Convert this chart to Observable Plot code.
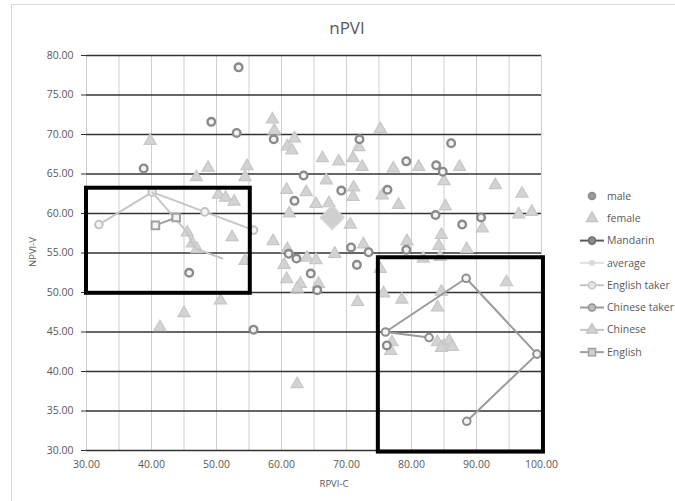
<!DOCTYPE html>
<html>
<head>
<meta charset="utf-8">
<script src="https://cdn.jsdelivr.net/npm/d3@7"></script>
<script src="https://cdn.jsdelivr.net/npm/@observablehq/plot@0.6"></script>
<style>
  html, body { margin: 0; padding: 0; background: #fff; }
  #chart { width: 675px; height: 501px; }
</style>
</head>
<body>
<div id="chart"></div>
<script>
// ---- tick values ----
const xLabelTicks = [30, 40, 50, 60, 70, 80, 90, 100];
const xGridTicks = [30, 35, 40, 45, 50, 55, 60, 65, 70, 75, 80, 85, 90, 95, 100];
const yTicks = [30, 35, 40, 45, 50, 55, 60, 65, 70, 75, 80];

// ---- male (rings) ----
const maleX = [53.4, 49.2, 53.1, 58.8, 38.8, 63.4, 62.0, 72.0, 69.2, 76.3, 79.2, 83.8, 84.8, 86.1, 83.7, 87.8, 90.7, 70.7, 73.4, 71.6, 79.2, 61.1, 62.3, 45.8, 55.7, 64.5, 65.5, 76.2];
const maleY = [78.5, 71.6, 70.2, 69.4, 65.7, 64.8, 61.6, 69.4, 62.9, 63.0, 66.6, 66.1, 65.3, 68.9, 59.8, 58.6, 59.5, 55.7, 55.1, 53.5, 55.4, 54.9, 54.3, 52.5, 45.3, 52.4, 50.3, 43.3];

// ---- female (triangles) ----
const femaleX = [39.8, 46.9, 48.7, 54.7, 54.4, 50.3, 51.4, 52.7, 58.6, 58.9, 60.9, 61.6, 62.0, 66.3, 68.8, 60.8, 63.8, 65.3, 67.3, 66.9, 61.2, 52.4, 58.7, 60.9, 54.4, 63.9, 65.3, 68.2, 45.5, 46.3, 47.0, 60.4, 60.8, 62.9, 62.4, 65.7, 50.6, 45.0, 41.3, 62.4, 75.2, 71.9, 71.0, 72.4, 77.2, 81.1, 87.4, 85.0, 92.9, 97.0, 71.1, 71.0, 75.5, 78.0, 85.2, 70.6, 90.9, 96.5, 98.5, 72.6, 79.3, 84.6, 84.2, 88.5, 81.8, 84.4, 75.2, 75.7, 78.5, 71.7, 84.6, 84.0, 94.6, 77.0, 76.8, 84.0, 85.0, 85.8, 86.3, 84.6];
const femaleY = [69.2, 64.6, 65.8, 66.0, 64.6, 62.4, 62.0, 61.5, 71.9, 70.5, 68.5, 68.0, 69.5, 67.0, 66.6, 63.0, 62.7, 61.2, 61.3, 64.2, 60.0, 57.0, 56.5, 55.5, 54.0, 54.4, 54.1, 54.9, 57.6, 56.2, 55.5, 53.5, 51.7, 51.1, 50.5, 51.1, 49.0, 47.4, 45.6, 38.4, 70.7, 68.4, 67.0, 65.9, 65.7, 65.9, 65.9, 64.1, 63.6, 62.5, 63.3, 62.1, 62.3, 61.1, 60.9, 58.6, 58.1, 59.9, 60.2, 56.1, 56.5, 57.3, 55.9, 55.5, 54.3, 54.5, 53.0, 49.9, 49.1, 48.8, 50.1, 48.1, 51.3, 43.7, 42.6, 43.7, 43.3, 43.9, 43.1, 43.0];

// ---- line series ----
const averageX = [67.8];
const averageY = [59.5];
const englishTakerX = [31.9, 40.1, 48.2, 55.7];
const englishTakerY = [58.6, 62.7, 60.2, 57.9];
const chineseTakerX = [82.7, 76.0, 88.4, 99.3, 88.5];
const chineseTakerY = [44.3, 45.0, 51.8, 42.2, 33.7];
const chineseX = [40.1, 45.5, 46.3, 47.0, 50.9];
const chineseY = [62.7, 57.6, 56.2, 55.5, 54.3];
const englishX = [40.6, 43.8];
const englishY = [58.5, 59.5];

// ---- highlighted regions ----
const boxX1 = [30.0, 74.9];
const boxX2 = [55.2, 100.3];
const boxY1 = [49.9, 29.8];
const boxY2 = [63.2, 54.4];

const legendLabels = ["male", "female", "Mandarin", "average", "English taker", "Chinese taker", "Chinese", "English"];

const toPts = (xs, ys) => xs.map((x, i) => ({x, y: ys[i]}));
const male = toPts(maleX, maleY);
const female = toPts(femaleX, femaleY);
const average = toPts(averageX, averageY);
const englishTaker = toPts(englishTakerX, englishTakerY);
const chineseTaker = toPts(chineseTakerX, chineseTakerY);
const chinese = toPts(chineseX, chineseY);
const english = toPts(englishX, englishY);
const boxes = boxX1.map((x1, i) => ({x1, x2: boxX2[i], y1: boxY1[i], y2: boxY2[i]}));

const FONT = "'Open Sans', 'DejaVu Sans', sans-serif";
const TXT = "#595959";

const chart = Plot.plot({
  width: 675,
  height: 501,
  marginLeft: 86,
  marginRight: 134,
  marginTop: 55,
  marginBottom: 51,
  x: {domain: [30, 100]},
  y: {domain: [30, 80]},
  style: {fontFamily: FONT, fontSize: "10.5px", color: TXT, background: "transparent", overflow: "visible"},
  marks: [
    Plot.gridX(xGridTicks, {stroke: "#cfcfcf", strokeOpacity: 1, strokeWidth: 1}),
    Plot.gridY(yTicks, {stroke: "#333333", strokeOpacity: 1, strokeWidth: 1.3}),
    Plot.axisY(yTicks, {tickFormat: d => d.toFixed(2), tickSize: 5, tickPadding: 8, label: null, stroke: "#333333", fill: TXT}),
    Plot.axisX(xLabelTicks, {tickFormat: d => d.toFixed(2), tickSize: 0, tickPadding: 10, label: null, fill: TXT}),
    // female triangles
    Plot.dot(female, {x: "x", y: "y", symbol: "triangle", r: 4.5, fill: "#d3d3d3", stroke: "#c6c6c6", strokeWidth: 1.2}),
    // male rings
    Plot.dot(male, {x: "x", y: "y", r: 3.8, fill: "#f4f4f4", stroke: "#8a8a8a", strokeWidth: 2.4}),
    // average diamond
    Plot.dot(average, {x: "x", y: "y", symbol: "square", r: 9.5, rotate: 45, fill: "#cfcfcf", stroke: "#d6d6d6"}),
    // English taker
    Plot.line(englishTaker, {x: "x", y: "y", stroke: "#c6c6c6", strokeWidth: 2}),
    Plot.dot(englishTaker, {x: "x", y: "y", r: 3.8, fill: "#f4f4f4", stroke: "#c2c2c2", strokeWidth: 2}),
    // Chinese
    Plot.line(chinese, {x: "x", y: "y", stroke: "#c6c6c6", strokeWidth: 2}),
    // English squares
    Plot.line(english, {x: "x", y: "y", stroke: "#9f9f9f", strokeWidth: 2}),
    Plot.dot(english, {x: "x", y: "y", symbol: "square", r: 4.3, fill: "#f4f4f4", stroke: "#a0a0a0", strokeWidth: 2}),
    // Chinese taker
    Plot.line(chineseTaker, {x: "x", y: "y", stroke: "#9a9a9a", strokeWidth: 2}),
    Plot.dot(chineseTaker, {x: "x", y: "y", r: 3.8, fill: "#f4f4f4", stroke: "#8f8f8f", strokeWidth: 2}),
    // highlight boxes
    Plot.rect(boxes, {x1: "x1", x2: "x2", y1: "y1", y2: "y2", fill: "none", stroke: "#000", strokeWidth: 4})
  ]
});

document.getElementById("chart").appendChild(chart);

const svg = d3.select(chart);

// outer chart border
svg.insert("rect", ":first-child")
  .attr("x", 11.5).attr("y", 4.5).attr("width", 700).attr("height", 600)
  .attr("fill", "none").attr("stroke", "#d9d9d9");

// title
svg.append("text").attr("x", 347).attr("y", 34).attr("text-anchor", "middle")
  .attr("font-family", FONT).attr("font-size", 17).attr("fill", TXT).text("nPVI");

// axis titles
svg.append("text").attr("x", 334).attr("y", 487).attr("text-anchor", "middle")
  .attr("font-family", FONT).attr("font-size", 9.5).attr("fill", TXT).text("RPVI-C");
svg.append("text").attr("transform", "translate(36,252) rotate(-90)").attr("text-anchor", "middle")
  .attr("font-family", FONT).attr("font-size", 9.5).attr("fill", TXT).text("NPVI-V");

// legend
const lg = svg.append("g").attr("font-family", FONT).attr("font-size", 10.5).attr("fill", TXT).attr("text-anchor", "start");
const legendY0 = 196, legendDY = 22.3, mx = 592;
const specs = [
  {line: null, mark: "circle", stroke: "#8a8a8a", fill: "#9a9a9a"},
  {line: null, mark: "triangle", stroke: "#c3c3c3", fill: "#d2d2d2"},
  {line: "#5a5a5a", mark: "circle", stroke: "#6a6a6a", fill: "#8a8a8a"},
  {line: "#e0e0e0", mark: "small", stroke: "#d6d6d6", fill: "#d6d6d6"},
  {line: "#c6c6c6", mark: "circle", stroke: "#c2c2c2", fill: "#e6e6e6"},
  {line: "#9a9a9a", mark: "circle", stroke: "#8f8f8f", fill: "#bdbdbd"},
  {line: "#c6c6c6", mark: "triangle", stroke: "#c3c3c3", fill: "#d2d2d2"},
  {line: "#9f9f9f", mark: "square", stroke: "#a0a0a0", fill: "#cfcfcf"}
];
legendLabels.forEach((lab, i) => {
  const y = legendY0 + i * legendDY;
  const s = specs[i];
  if (s.line) lg.append("line").attr("x1", 580).attr("x2", 604).attr("y1", y).attr("y2", y)
    .attr("stroke", s.line).attr("stroke-width", 2);
  let sym;
  if (s.mark === "circle") sym = d3.symbol(d3.symbolCircle, 40);
  else if (s.mark === "triangle") sym = d3.symbol(d3.symbolTriangle, 50);
  else if (s.mark === "square") sym = d3.symbol(d3.symbolSquare, 50);
  else sym = d3.symbol(d3.symbolCircle, 14);
  lg.append("path").attr("d", sym()).attr("transform", `translate(${mx},${y})`)
    .attr("fill", s.fill).attr("stroke", s.stroke).attr("stroke-width", 1.5);
  lg.append("text").attr("x", 607).attr("y", y).attr("dy", "0.35em").attr("text-anchor", "start").text(lab);
});
</script>
</body>
</html>
